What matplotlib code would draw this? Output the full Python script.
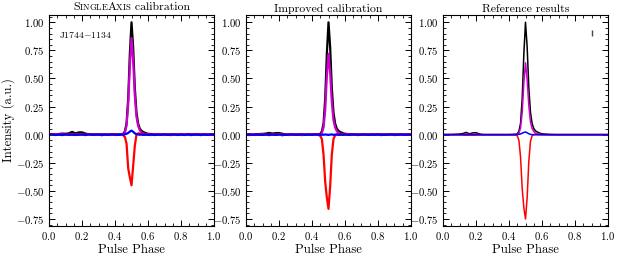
import numpy as np
import matplotlib
matplotlib.use("Agg")
import matplotlib.pyplot as plt
from matplotlib.ticker import MultipleLocator
from matplotlib.offsetbox import TextArea, HPacker, AnchoredOffsetbox

plt.rcParams["font.family"] = "serif"
plt.rcParams["font.serif"] = ["cmr10"]
plt.rcParams["mathtext.fontset"] = "cm"
plt.rcParams["axes.formatter.use_mathtext"] = True

# Pulse phase bins (coarse off-pulse, fine across the main peak)
phase = np.round(np.concatenate([np.arange(0.0, 0.45, 0.02),
                                 np.arange(0.45, 0.605, 0.01),
                                 np.arange(0.62, 1.005, 0.02)]), 3)

titles = ["SingleAxis calibration", "Improved calibration", "Reference results"]
psr_name = "J1744$-$1134"

# --- SingleAxis calibration ---
i_sa = [0.002, 0.004, 0.003, 0.006, 0.010, 0.008, 0.012, 0.025, 0.012, 0.020, 0.021, 0.010,
        0.004, 0.002, 0.003, 0.001, 0.003, 0.002, 0.001, 0.003, 0.002, 0.004, 0.005,
        0.008, 0.030, 0.100, 0.320, 0.720, 1.000, 0.780, 0.420, 0.200, 0.100, 0.055,
        0.035, 0.025, 0.018, 0.012, 0.008,
        0.005, 0.003, 0.002, 0.003, 0.001, 0.002, 0.003, 0.001, 0.002, 0.003, 0.001,
        0.002, 0.003, 0.001, 0.002, 0.003, 0.002, 0.001, 0.002, 0.002]
l_sa = [0.001, -0.002, 0.003, 0.000, 0.004, -0.001, 0.003, 0.002, -0.002, 0.004, 0.001, -0.001,
        0.003, -0.002, 0.002, 0.001, -0.003, 0.002, 0.000, 0.003, -0.001, 0.002, 0.003,
        0.005, 0.020, 0.080, 0.270, 0.620, 0.860, 0.660, 0.350, 0.160, 0.080, 0.040,
        0.020, 0.012, 0.008, 0.005, 0.003,
        0.002, -0.002, 0.003, 0.001, -0.002, 0.002, 0.000, 0.003, -0.001, 0.002, -0.002,
        0.001, 0.003, -0.001, 0.002, 0.000, -0.002, 0.003, 0.001, 0.000]
v_sa = [-0.003, 0.004, -0.002, 0.003, -0.004, 0.002, 0.000, -0.003, 0.004, -0.002, 0.003, -0.004,
        0.002, 0.005, -0.003, 0.002, -0.004, 0.003, 0.001, -0.003, 0.004, -0.002, 0.000,
        -0.005, -0.020, -0.080, -0.300, -0.380, -0.450, -0.280, -0.100, 0.000, 0.012, 0.010,
        0.004, 0.002, -0.002, 0.003, 0.000,
        -0.003, 0.004, -0.002, 0.005, -0.003, 0.002, -0.004, 0.003, -0.001, 0.004, -0.003,
        0.002, -0.004, 0.003, 0.000, -0.003, 0.004, -0.002, 0.003, -0.001]
u_sa = [0.000, 0.002, -0.003, 0.001, -0.002, 0.003, -0.001, 0.002, -0.003, 0.001, 0.002, -0.002,
        0.003, -0.001, 0.000, 0.002, -0.003, 0.001, -0.002, 0.003, 0.000, -0.002, 0.002,
        0.000, 0.004, 0.008, 0.016, 0.028, 0.036, 0.026, 0.012, 0.005, 0.002, -0.001,
        0.002, -0.002, 0.001, 0.000, -0.002,
        0.002, -0.003, 0.001, -0.001, 0.003, -0.002, 0.000, 0.002, -0.003, 0.001, -0.002,
        0.003, -0.001, 0.000, 0.002, -0.003, 0.001, -0.002, 0.002, 0.000]

# --- Improved calibration ---
i_im = [0.001, 0.003, 0.002, 0.004, 0.006, 0.007, 0.010, 0.016, 0.010, 0.014, 0.015, 0.008,
        0.003, 0.002, 0.001, 0.002, 0.003, 0.001, 0.002, 0.001, 0.003, 0.002, 0.004,
        0.008, 0.030, 0.100, 0.320, 0.720, 1.000, 0.780, 0.420, 0.200, 0.100, 0.055,
        0.035, 0.025, 0.018, 0.012, 0.008,
        0.005, 0.003, 0.001, 0.002, 0.003, 0.001, 0.002, 0.001, 0.003, 0.002, 0.001,
        0.002, 0.001, 0.003, 0.002, 0.001, 0.002, 0.003, 0.001, 0.002]
l_im = [0.002, -0.001, 0.003, 0.000, -0.002, 0.003, 0.001, -0.002, 0.002, 0.000, 0.003, -0.001,
        0.002, -0.002, 0.001, 0.003, -0.001, 0.002, 0.000, -0.002, 0.003, 0.001, 0.003,
        0.004, 0.016, 0.065, 0.220, 0.520, 0.720, 0.550, 0.290, 0.130, 0.065, 0.032,
        0.016, 0.010, 0.006, 0.004, 0.002,
        0.001, -0.002, 0.003, 0.000, -0.001, 0.002, -0.002, 0.003, 0.001, -0.001, 0.002,
        0.000, -0.002, 0.003, 0.001, -0.001, 0.002, 0.000, 0.003, -0.001]
v_im = [0.003, -0.004, 0.002, -0.003, 0.004, -0.002, 0.001, -0.004, 0.003, -0.002, 0.004, -0.006,
        0.002, -0.003, 0.004, -0.002, 0.003, -0.004, 0.001, 0.003, -0.002, 0.004, -0.003,
        -0.010, -0.040, -0.180, -0.420, -0.560, -0.660, -0.460, -0.180, -0.040, -0.005, 0.003,
        0.004, -0.002, 0.003, -0.003, 0.002,
        0.004, -0.003, 0.002, -0.004, 0.003, 0.001, -0.003, 0.004, -0.002, 0.003, -0.004,
        0.002, -0.001, 0.003, -0.004, 0.002, 0.004, -0.002, 0.003, -0.002]
u_im = [-0.001, 0.002, -0.002, 0.001, 0.000, -0.002, 0.002, -0.001, 0.001, -0.002, 0.002, 0.000,
        -0.002, 0.001, 0.002, -0.001, 0.000, 0.002, -0.002, 0.001, -0.001, 0.002, 0.000,
        -0.002, 0.001, -0.001, 0.002, 0.000, -0.002, 0.001, 0.002, -0.001, 0.000, 0.002,
        -0.002, 0.001, 0.000, -0.001, 0.002,
        -0.002, 0.001, 0.002, -0.001, 0.000, 0.002, -0.002, 0.001, -0.001, 0.002, 0.000,
        -0.002, 0.001, 0.002, -0.001, 0.000, 0.002, -0.002, 0.001, 0.000]

# --- Reference results ---
i_ref = [0.001, 0.002, 0.002, 0.003, 0.004, 0.006, 0.010, 0.020, 0.008, 0.016, 0.018, 0.006,
         0.002, 0.001, 0.001, 0.001, 0.001, 0.001, 0.001, 0.001, 0.001, 0.002, 0.004,
         0.008, 0.030, 0.100, 0.320, 0.720, 1.000, 0.780, 0.420, 0.200, 0.100, 0.055,
         0.035, 0.025, 0.018, 0.012, 0.008,
         0.005, 0.003, 0.002, 0.001, 0.001, 0.001, 0.001, 0.001, 0.001, 0.001, 0.001,
         0.001, 0.001, 0.001, 0.001, 0.001, 0.001, 0.001, 0.001, 0.001]
l_ref = [0.000, 0.000, 0.000, 0.000, 0.001, 0.001, 0.002, 0.003, 0.002, 0.003, 0.003, 0.001,
         0.000, 0.000, 0.000, 0.000, 0.000, 0.000, 0.000, 0.000, 0.000, 0.001, 0.002,
         0.004, 0.014, 0.060, 0.200, 0.460, 0.640, 0.490, 0.260, 0.115, 0.055, 0.028,
         0.014, 0.008, 0.005, 0.003, 0.002,
         0.001, 0.000, 0.000, 0.000, 0.000, 0.000, 0.000, 0.000, 0.000, 0.000, 0.000,
         0.000, 0.000, 0.000, 0.000, 0.000, 0.000, 0.000, 0.000, 0.000]
v_ref = [0.000, 0.000, 0.000, -0.001, -0.001, -0.001, -0.002, -0.005, -0.003, -0.005, -0.004, -0.002,
         -0.001, 0.000, 0.000, 0.000, 0.000, 0.000, 0.000, 0.000, 0.000, -0.001, -0.003,
         -0.010, -0.050, -0.200, -0.480, -0.650, -0.750, -0.560, -0.240, -0.060, -0.010, 0.000,
         0.002, 0.001, 0.000, 0.000, 0.000,
         0.000, 0.000, 0.000, 0.000, 0.000, 0.000, 0.000, 0.000, 0.000, 0.000, 0.000,
         0.000, 0.000, 0.000, 0.000, 0.000, 0.000, 0.000, 0.000, 0.000]
u_ref = [0.000, 0.000, 0.000, 0.000, 0.000, 0.000, 0.000, 0.001, 0.000, 0.001, 0.001, 0.000,
         0.000, 0.000, 0.000, 0.000, 0.000, 0.000, 0.000, 0.000, 0.000, 0.000, 0.000,
         0.001, 0.003, 0.007, 0.013, 0.020, 0.024, 0.017, 0.008, 0.003, 0.001, 0.000,
         0.000, 0.000, 0.000, 0.000, 0.000,
         0.000, 0.000, 0.000, 0.000, 0.000, 0.000, 0.000, 0.000, 0.000, 0.000, 0.000,
         0.000, 0.000, 0.000, 0.000, 0.000, 0.000, 0.000, 0.000, 0.000]

panels = [(i_sa, l_sa, v_sa, u_sa), (i_im, l_im, v_im, u_im), (i_ref, l_ref, v_ref, u_ref)]
line_widths = [1.6, 1.6, 1.1]

# off-pulse error bar shown in the reference panel
err_x, err_y, err_size = 0.9, 0.905, 0.025

TITLE_SIZE = 8.5
LABEL_SIZE = 9.2


def small_caps(word, size):
    """Fake small caps: capitals at full size, lower case as smaller capitals."""
    pieces = []
    for ch in word:
        fs = size * 0.74 if ch.islower() else size
        pieces.append(TextArea(ch.upper(), textprops=dict(fontsize=fs)))
    return pieces


def style_axis(ax):
    ax.set_xlim(0, 1)
    ax.set_ylim(-0.8125, 1.065)
    ax.xaxis.set_major_locator(MultipleLocator(0.2))
    ax.xaxis.set_minor_locator(MultipleLocator(0.05))
    ax.yaxis.set_major_locator(MultipleLocator(0.25))
    ax.yaxis.set_minor_locator(MultipleLocator(0.05))
    ax.tick_params(which="both", direction="in", top=True, right=True, labelsize=7.7, pad=3)
    ax.tick_params(which="major", length=4, width=0.7)
    ax.tick_params(which="minor", length=2, width=0.6)
    for s in ax.spines.values():
        s.set_linewidth(0.8)
    ax.set_xlabel("Pulse Phase", fontsize=LABEL_SIZE, labelpad=1)


fig = plt.figure(figsize=(6.18, 2.56), dpi=100)
lefts = [49, 246, 443]
axes = [fig.add_axes([l / 618, 30 / 256, 165 / 618, 211 / 256]) for l in lefts]

for k, (ax, data) in enumerate(zip(axes, panels)):
    i_p, l_p, v_p, u_p = data
    lw = line_widths[k]
    ax.plot(phase, i_p, color="black", lw=lw)
    ax.plot(phase, l_p, color="#cc00cc", lw=lw)
    ax.plot(phase, v_p, color="red", lw=lw)
    ax.plot(phase, u_p, color="blue", lw=lw)
    style_axis(ax)

# titles
pieces = small_caps("SingleAxis", TITLE_SIZE)
rest = TextArea(" calibration", textprops=dict(fontsize=TITLE_SIZE))
box = HPacker(children=pieces + [rest], pad=0, sep=0, align="baseline")
anchored = AnchoredOffsetbox(loc="lower center", child=box, pad=0, frameon=False,
                             bbox_to_anchor=(0.5, 1.0), bbox_transform=axes[0].transAxes,
                             borderpad=0.2)
axes[0].add_artist(anchored)
axes[1].set_title(titles[1], fontsize=TITLE_SIZE, pad=2)
axes[2].set_title(titles[2], fontsize=TITLE_SIZE, pad=2)

axes[0].text(0.06, 0.93, psr_name, transform=axes[0].transAxes, fontsize=7,
             ha="left", va="top")
axes[0].set_ylabel("Intensity (a.u.)", fontsize=LABEL_SIZE, labelpad=1)

axes[2].errorbar([err_x], [err_y], yerr=[err_size], fmt="none", ecolor="#444444",
                 elinewidth=1.0, capsize=0)

fig.savefig("out.png", dpi=100)
